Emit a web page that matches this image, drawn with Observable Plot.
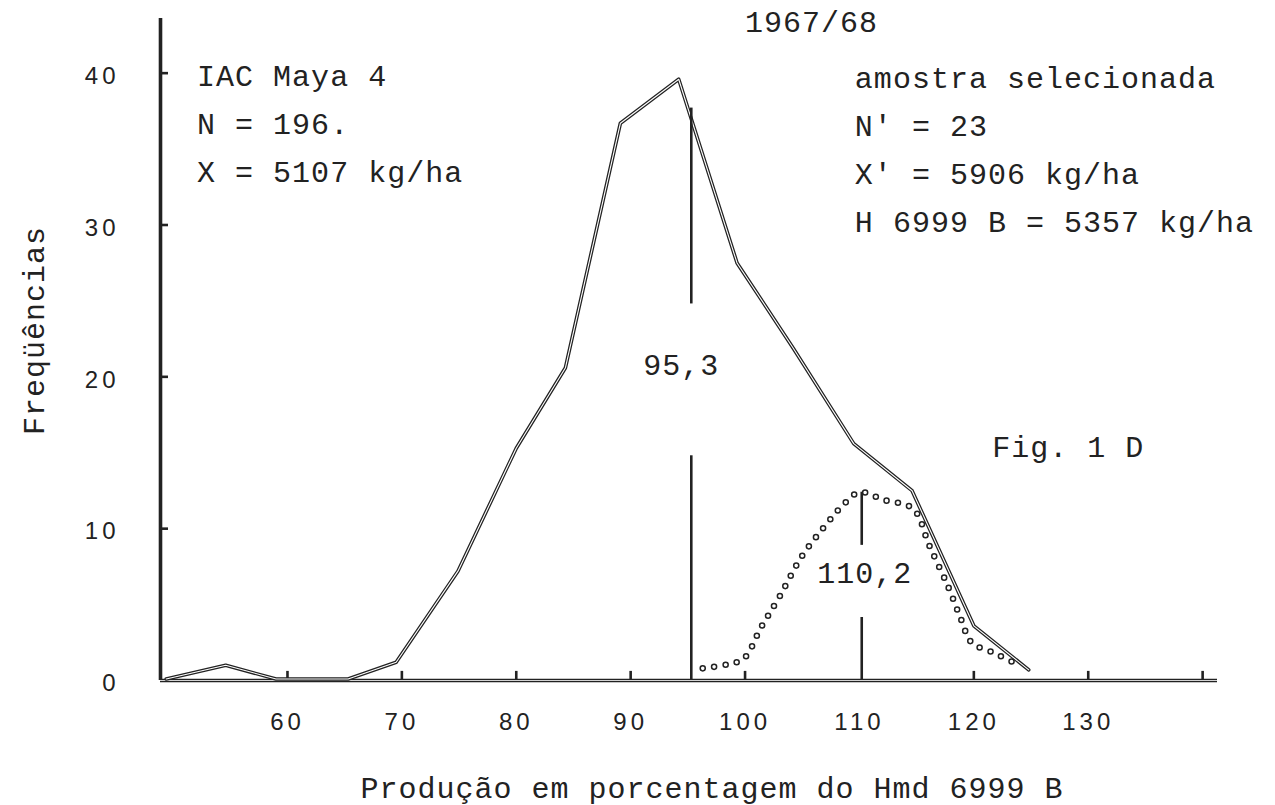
<!DOCTYPE html>
<html>
<head>
<meta charset="utf-8">
<script src="https://cdn.jsdelivr.net/npm/d3@7"></script>
<script src="https://cdn.jsdelivr.net/npm/@observablehq/plot@0.6"></script>
<style>
  html, body { margin: 0; padding: 0; background: #ffffff; }
  svg text { letter-spacing: 1px; }
  svg g[aria-label="x-axis tick label"] text,
  svg g[aria-label="y-axis tick label"] text { letter-spacing: 4px; }
</style>
</head>
<body>
<script>
// ---- Data ----
// Whole population (IAC Maya 4, N = 196): frequency polygon
const mainX = [49.4, 54.6, 59.0, 65.3, 69.5, 74.9, 80.0, 84.3, 89.1, 94.2, 99.3, 104.2, 109.5, 114.6, 120.0, 124.8];
const mainY = [0.1, 1.0, 0.1, 0.1, 1.2, 7.2, 15.3, 20.6, 36.7, 39.6, 27.5, 21.9, 15.6, 12.5, 3.6, 0.7];

// Selected sample (N' = 23): dotted curve
const selX = [96.3, 98.4, 99.9, 101.4, 103.0, 104.9, 106.9, 108.5, 110.0, 112.1, 114.7, 116.1, 117.8, 118.9, 119.8, 121.8, 123.7];
const selY = [0.8, 1.05, 1.45, 3.5, 5.5, 8.1, 10.1, 11.5, 12.4, 11.9, 11.3, 8.9, 6.1, 4.0, 2.5, 1.8, 1.1];

// Means (percent of Hmd 6999 B) and the drawn extents of their marker lines
const meanAll = 95.3;
const meanSel = 110.2;
const meanAllSegs = [[37.7, 24.8], [14.8, 0]];
const meanSelSegs = [[12.4, 8.9], [4.15, 0]];

// Axes
const xDomain = [48.9, 141.3];
const yDomain = [0, 43.6];
const xTickLabels = [60, 70, 80, 90, 100, 110, 120, 130];
const xTickMarks = [60, 70, 80, 90, 100, 120, 130, 140];
const yTickLabels = [0, 10, 20, 30, 40];
const yTickMarks = [10, 20, 30, 40];

// Texts
const titleText = "1967/68";
const leftBlock = ["IAC Maya 4", "N = 196.", "X = 5107 kg/ha"];
const rightBlock = ["amostra selecionada", "N' = 23", "X' = 5906 kg/ha", "H 6999 B = 5357 kg/ha"];
const figText = "Fig. 1 D";
const meanAllText = "95,3";
const meanSelText = "110,2";
const xLabel = "Produção em porcentagem do Hmd 6999 B";
const yLabel = "Freqüências";

// ---- Build tables ----
const mainData = mainX.map((x, i) => ({x, y: mainY[i]}));
const selData = selX.map((x, i) => ({x, y: selY[i]}));
const meanSegs = [
  ...meanAllSegs.map(([y1, y2]) => ({x: meanAll, y1, y2})),
  ...meanSelSegs.map(([y1, y2]) => ({x: meanSel, y1, y2}))
];

const ink = "#222222";
const mono = "Liberation Mono, DejaVu Sans Mono, monospace";
const sans = "Liberation Sans, Arial, sans-serif";

const chart = Plot.plot({
  width: 1275,
  height: 805,
  marginLeft: 160,
  marginRight: 58,
  marginTop: 18,
  marginBottom: 125,
  x: {domain: xDomain},
  y: {domain: yDomain},
  style: {fontFamily: mono, background: "#ffffff", color: ink},
  marks: [
    // tick labels
    Plot.axisX({ticks: xTickLabels, tickSize: 0, tickPadding: 32, fontSize: 24,
      fontFamily: sans, label: null, fill: ink}),
    Plot.axisY({ticks: yTickLabels, tickSize: 0, tickPadding: 41, fontSize: 24, dy: 3,
      fontFamily: sans, label: null, fill: ink}),

    // axis lines
    Plot.ruleY([0], {x1: xDomain[0], x2: xDomain[1], stroke: ink, strokeWidth: 3.4}),
    Plot.ruleY([0], {x1: xDomain[0], x2: xDomain[1], stroke: "#ffffff", strokeWidth: 0.8}),
    Plot.ruleX([xDomain[0]], {y1: yDomain[0], y2: yDomain[1], stroke: ink, strokeWidth: 3.6}),

    // small tick bumps
    Plot.ruleX(xTickMarks, {y1: 0, y2: 0.6, stroke: ink, strokeWidth: 2.6}),
    Plot.ruleY(yTickMarks, {x1: xDomain[0], x2: xDomain[0] + 0.7, stroke: ink, strokeWidth: 2.6}),

    // main frequency polygon (double-line look)
    Plot.line(mainData, {x: "x", y: "y", stroke: ink, strokeWidth: 3.6, strokeLinejoin: "round"}),
    Plot.line(mainData, {x: "x", y: "y", stroke: "#ffffff", strokeWidth: 1.1, strokeLinejoin: "round"}),

    // selected sample: ring-dotted curve
    Plot.line(selData, {x: "x", y: "y", curve: "catmull-rom", stroke: ink, strokeWidth: 6.6,
      strokeDasharray: "0 11.5", strokeLinecap: "round"}),
    Plot.line(selData, {x: "x", y: "y", curve: "catmull-rom", stroke: "#ffffff", strokeWidth: 3.6,
      strokeDasharray: "0 11.5", strokeLinecap: "round"}),

    // mean marker lines
    Plot.ruleX(meanSegs, {x: "x", y1: "y1", y2: "y2", stroke: ink, strokeWidth: 2.6}),

    // annotations
    Plot.text([titleText], {x: 100, y: 42.7, text: d => d, textAnchor: "start", lineAnchor: "bottom",
      fontSize: 30, fontFamily: mono, fill: ink}),
    Plot.text([leftBlock.join("\n")], {x: 52.1, y: 32.82, text: d => d, textAnchor: "start",
      lineAnchor: "bottom", lineHeight: 1.6, fontSize: 30, fontFamily: mono, fill: ink}),
    Plot.text([rightBlock.join("\n")], {x: 109.6, y: 29.52, text: d => d, textAnchor: "start",
      lineAnchor: "bottom", lineHeight: 1.6, fontSize: 30, fontFamily: mono, fill: ink}),
    Plot.text([figText], {x: 121.6, y: 14.7, text: d => d, textAnchor: "start", lineAnchor: "bottom",
      fontSize: 30, fontFamily: mono, fill: ink}),
    Plot.text([meanAllText], {x: meanAll, y: 20.1, dx: -10, text: d => d, textAnchor: "middle",
      lineAnchor: "bottom", fontSize: 30, fontFamily: mono, fill: ink}),
    Plot.text([meanSelText], {x: meanSel, y: 6.4, dx: 3, text: d => d, textAnchor: "middle",
      lineAnchor: "bottom", fontSize: 30, fontFamily: mono, fill: ink}),

    // axis titles
    Plot.text([xLabel], {frameAnchor: "bottom-left", dx: 200, dy: 117, text: d => d,
      textAnchor: "start", lineAnchor: "bottom", fontSize: 30, fontFamily: mono, fill: ink}),
    Plot.text([yLabel], {frameAnchor: "left", dx: -117, dy: -19, rotate: -90, text: d => d,
      textAnchor: "middle", lineAnchor: "bottom", fontSize: 30, fontFamily: mono, fill: ink})
  ]
});

document.body.appendChild(chart);
</script>
</body>
</html>
